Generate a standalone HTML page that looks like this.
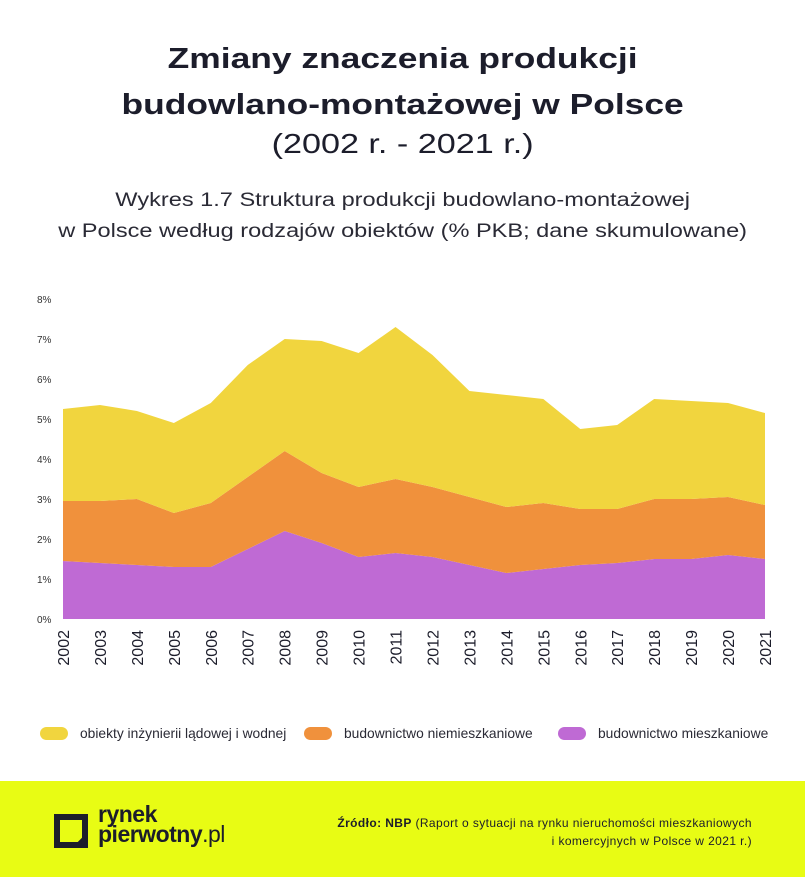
<!DOCTYPE html>
<html><head><meta charset="utf-8"><style>
body{margin:0;width:805px;height:877px;background:#fff;font-family:"Liberation Sans","DejaVu Sans",sans-serif;color:#1c1d2b;position:relative;overflow:hidden}
.t{position:absolute;left:0;width:805px;text-align:center;transform:scaleX(1.22);transform-origin:402px 0}
</style></head><body>
<div class="t" style="top:36px;font-size:29px;font-weight:bold;line-height:46px">Zmiany znaczenia produkcji<br>budowlano-montażowej w Polsce</div>
<div class="t" style="top:126px;font-size:28px;line-height:36px">(2002 r. - 2021 r.)</div>
<div class="t" style="top:185px;font-size:19px;line-height:31px;color:#2a2a35;transform:scaleX(1.24)">Wykres 1.7 Struktura produkcji budowlano-montażowej<br>w Polsce według rodzajów obiektów (% PKB; dane skumulowane)</div>
<svg id="chart" width="805" height="700" style="position:absolute;left:0;top:0"></svg>
<div style="position:absolute;top:726px;left:0;width:805px;font-size:13.8px;color:#2a2a35">
 <div style="position:absolute;left:40px;display:flex;align-items:center"><span style="width:28px;height:13px;border-radius:7px;background:#f1d53e;margin-right:12px"></span>obiekty inżynierii lądowej i wodnej</div>
 <div style="position:absolute;left:304px;display:flex;align-items:center"><span style="width:28px;height:13px;border-radius:7px;background:#f0913c;margin-right:12px"></span>budownictwo niemieszkaniowe</div>
 <div style="position:absolute;left:558px;display:flex;align-items:center"><span style="width:28px;height:13px;border-radius:7px;background:#bf6ad4;margin-right:12px"></span>budownictwo mieszkaniowe</div>
</div>
<div style="position:absolute;left:0;top:781px;width:805px;height:96px;background:#e8fc14">
 <svg width="34" height="34" style="position:absolute;left:54px;top:33px"><path d="M3 3h28v28H3z" fill="none" stroke="#1c1d2b" stroke-width="6"/><path d="M25 31l6-6" stroke="#1c1d2b" stroke-width="6"/></svg>
 <div style="position:absolute;left:98px;top:23px;font-size:23px;font-weight:bold;line-height:20px;letter-spacing:-0.5px">rynek<br>pierwotny<span style="font-weight:normal">.pl</span></div>
 <div style="position:absolute;right:53px;top:33px;font-size:12px;line-height:18px;text-align:right;letter-spacing:0.4px"><b>Źródło: NBP</b> (Raport o sytuacji na rynku nieruchomości mieszkaniowych<br>i komercyjnych w Polsce w 2021 r.)</div>
</div>
<script>
const years=[2002,2003,2004,2005,2006,2007,2008,2009,2010,2011,2012,2013,2014,2015,2016,2017,2018,2019,2020,2021];
const residential=[1.45,1.4,1.35,1.3,1.3,1.75,2.2,1.9,1.55,1.65,1.55,1.35,1.15,1.25,1.35,1.4,1.5,1.5,1.6,1.5];
const nonResidential=[1.5,1.55,1.65,1.35,1.6,1.8,2.0,1.75,1.75,1.85,1.75,1.7,1.65,1.65,1.4,1.35,1.5,1.5,1.45,1.35];
const engineering=[2.3,2.4,2.2,2.25,2.5,2.8,2.8,3.3,3.35,3.8,3.3,2.65,2.8,2.6,2.0,2.1,2.5,2.45,2.35,2.3];
const yTicks=[0,1,2,3,4,5,6,7,8];
const NS="http://www.w3.org/2000/svg",svg=document.getElementById('chart');
const x=i=>63+i*(765-63)/(years.length-1), y=v=>619-v*40;
function mk(t,a){const e=document.createElementNS(NS,t);for(const k in a)e.setAttribute(k,a[k]);svg.appendChild(e);return e;}
yTicks.forEach(v=>{const t=mk('text',{x:37,y:y(v)+4,'font-size':10,fill:'#333'});t.textContent=v+'%';

});
const base=years.map(()=>0);
[[residential,'#bf6ad4','area-residential'],[nonResidential,'#f0913c','area-nonresidential'],[engineering,'#f1d53e','area-engineering']].forEach(([s,c,n])=>{
 const top=base.map((b,i)=>b+s[i]);
 let d='M'+years.map((_,i)=>x(i)+','+y(top[i])).join('L');
 for(let i=years.length-1;i>=0;i--)d+='L'+x(i)+','+y(base[i]);
 const p=mk('path',{d:d+'Z',fill:c});
 
 
 top.forEach((v,i)=>base[i]=v);});
years.forEach((yr,i)=>{const t=mk('text',{x:0,y:0,'font-size':16,fill:'#1c1d2b','text-anchor':'end',transform:`translate(${x(i)+6},630) rotate(-90)`});t.textContent=yr;

});
</script>
</body></html>
